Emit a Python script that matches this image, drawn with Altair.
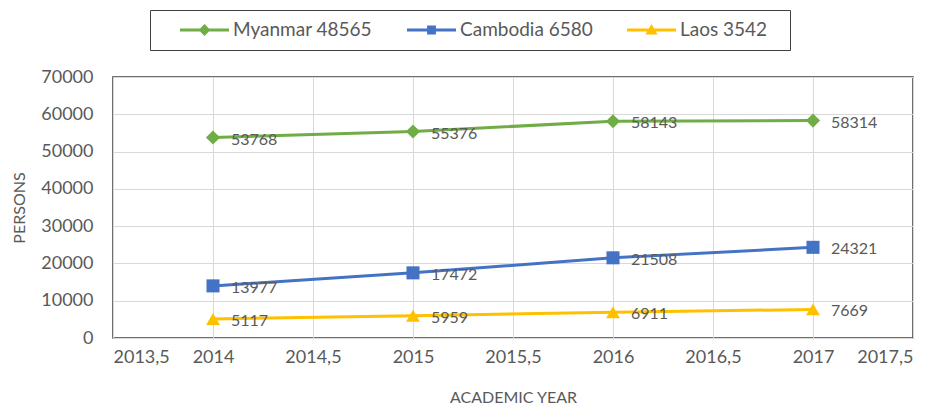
import altair as alt
import pandas as pd

series = ["Myanmar 48565", "Cambodia 6580", "Laos 3542"]
colors = ["#70AD47", "#4472C4", "#FFC000"]
markers = ["diamond", "square", "triangle-up"]
marker_sizes = [200, 170, 190]
years = [2014, 2015, 2016, 2017]
myanmar = [53768, 55376, 58143, 58314]
cambodia = [13977, 17472, 21508, 24321]
laos = [5117, 5959, 6911, 7669]
x_ticks = [2013.5, 2014, 2014.5, 2015, 2015.5, 2016, 2016.5, 2017, 2017.5]
y_ticks = [0, 10000, 20000, 30000, 40000, 50000, 60000, 70000]

rows = []
for s, m, sz, vals in zip(series, markers, marker_sizes, [myanmar, cambodia, laos]):
    for yr, v in zip(years, vals):
        rows.append({"series": s, "year": yr, "value": v, "marker": m, "msize": sz})
df = pd.DataFrame(rows)

FONT = "Lato"
GREY = "#595959"

bar = "M-1,-0.06L1,-0.06L1,0.06L-1,0.06Z "
legend_paths = [
    bar + "M0,-0.24L0.24,0L0,0.24L-0.24,0Z",
    bar + "M-0.18,-0.18L0.18,-0.18L0.18,0.18L-0.18,0.18Z",
    bar + "M0,-0.24L0.25,0.18L-0.25,0.18Z",
]

legend = alt.Legend(
    title="\u00a0", titleOrient="right", titlePadding=14, titleFontSize=10,
    orient="none", legendX=37, legendY=-67, direction="horizontal",
    columns=3, symbolSize=2401, symbolStrokeWidth=0, labelFontSize=19,
    labelFont=FONT, labelColor=GREY, strokeColor="#404040", padding=9,
    columnPadding=13, labelOffset=4, symbolOffset=21, fillColor="white",
    clipHeight=22,
)

x = alt.X("year:Q", scale=alt.Scale(domain=[2013.5, 2017.5], nice=False),
          axis=alt.Axis(values=x_ticks, format=".1~f", labelExpr="replace(datum.label, '.', ',')",
                        title="ACADEMIC YEAR", grid=True, ticks=False, labelPadding=10,
                        titlePadding=23))
y = alt.Y("value:Q", scale=alt.Scale(domain=[0, 70000], nice=False),
          axis=alt.Axis(values=y_ticks, format="d", title="PERSONS", grid=True, ticks=False,
                        labelPadding=20, titlePadding=13))
color = alt.Color("series:N", scale=alt.Scale(domain=series, range=colors), sort=series, legend=legend)

base = alt.Chart(df)
lines = base.mark_line(strokeWidth=3).encode(x=x, y=y, color=color)
points = base.mark_point(filled=True, opacity=1).encode(
    x=x, y=y, color=color, shape=alt.Shape("marker:N", scale=None),
    size=alt.Size("msize:Q", scale=None))
labels = base.mark_text(align="left", baseline="middle", dx=18, dy=2, fontSize=16,
                        font=FONT, color=GREY).encode(x=x, y=y, text="value:Q")
leg = base.transform_filter("false").mark_point(filled=True, opacity=1).encode(
    x=x, y=y, color=color,
    shape=alt.Shape("series:N", scale=alt.Scale(domain=series, range=legend_paths), legend=legend))

chart = alt.layer(lines, points, labels, leg).properties(
    width=800, height=261,
    autosize=alt.AutoSizeParams(type="none"),
    padding={"left": 105, "top": 69, "right": 21, "bottom": 66},
).configure_view(stroke="#404040", strokeWidth=1.5).configure_axis(
    labelFont=FONT, labelFontSize=18, labelColor=GREY, titleFont=FONT, titleFontSize=16,
    titleColor=GREY, titleFontWeight="normal", gridColor="#D9D9D9", domain=False,
)

chart.save("out.html", embed_options={"renderer": "svg", "actions": False})
